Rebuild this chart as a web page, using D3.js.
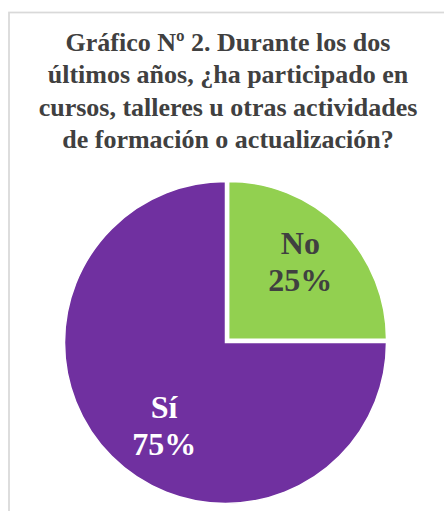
<!DOCTYPE html>
<html>
<head>
<meta charset="utf-8">
<script src="https://cdn.jsdelivr.net/npm/d3@7"></script>
</head>
<body style="margin:0">
<svg id="chart" width="444" height="511"></svg>
<script>
// Survey answers and their shares (percent)
const categories = ["No", "Sí"];
const values = [25, 75];
const colors = ["#92D050", "#7030A0"];
const labelColors = ["#404040", "#FFFFFF"];
const titleLines = [
  "Gráfico Nº 2. Durante los dos",
  "últimos años, ¿ha participado en",
  "cursos, talleres u otras actividades",
  "de formación o actualización?"
];

const W = 444, H = 511;
const FONT = '"Liberation Serif", "Times New Roman", serif';
const svg = d3.select("#chart");

// Chart-area frame (extends past the right and bottom edges)
svg.append("rect")
  .attr("x", 9).attr("y", 12.5)
  .attr("width", W + 20).attr("height", H + 20)
  .attr("fill", "#fff")
  .attr("stroke", "#d9d9d9")
  .attr("stroke-width", 1.75);

// Title, one text element per line
svg.selectAll("text.title")
  .data(titleLines)
  .join("text")
  .attr("class", "title")
  .attr("x", 228)
  .attr("y", (d, i) => 51 + i * 32.3)
  .attr("text-anchor", "middle")
  .attr("font-size", 26)
  .attr("font-weight", "bold")
  .attr("fill", "#404040")
  .style("font-family", FONT)
  .text(d => d);

// Pie
const cx = 225.5, cy = 342.5, R = 161;
const pie = d3.pie().sort(null).value(d => d.value);
const arcs = pie(categories.map((c, i) => ({ name: c, value: values[i], color: colors[i], lc: labelColors[i] })));

// The "No" slice is pulled out slightly and shrunk to stay inside the plot area
const explode = [4.5, 0];
const arc = d3.arc().innerRadius(0).outerRadius((d, i) => R - explode[d.index] * 0.7);

const g = svg.append("g").attr("transform", `translate(${cx},${cy})`);
g.selectAll("path")
  .data(arcs)
  .join("path")
  .attr("transform", d => {
    const a = (d.startAngle + d.endAngle) / 2;
    const e = explode[d.index];
    return `translate(${Math.sin(a) * e},${-Math.cos(a) * e})`;
  })
  .attr("d", arc)
  .attr("fill", d => d.data.color)
  .attr("stroke", "#fff")
  .attr("stroke-width", 1.5);

// Data labels: category name on one line, percentage below
const labelArc = d3.arc().innerRadius(108 * 2).outerRadius(0);
const labelNudge = [[-1.5, -4], [15, 7]];
const rows = [d => d.data.name, d => d.data.value + "%"];
const rowOffset = [-8, 29];
rows.forEach((fmt, r) => {
  g.selectAll(`text.lbl${r}`)
    .data(arcs)
    .join("text")
    .attr("class", `lbl${r}`)
    .attr("text-anchor", "middle")
    .attr("font-size", 32)
    .attr("font-weight", "bold")
    .style("font-family", FONT)
    .attr("fill", d => d.data.lc)
    .attr("x", d => labelArc.centroid(d)[0] + labelNudge[d.index][0])
    .attr("y", d => labelArc.centroid(d)[1] + labelNudge[d.index][1] + rowOffset[r])
    .text(fmt);
});
</script>
</body>
</html>
